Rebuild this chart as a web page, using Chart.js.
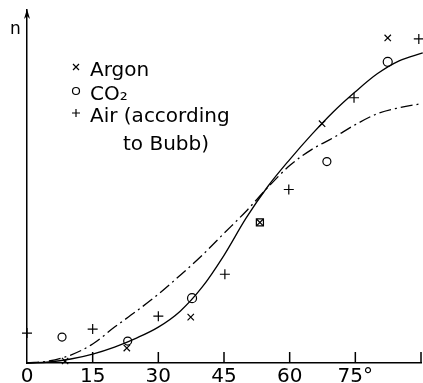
<!DOCTYPE html>
<html>
<head>
<meta charset="utf-8">
<script src="https://cdn.jsdelivr.net/npm/chart.js@4/dist/chart.umd.min.js"></script>
<style>
    html, body { margin: 0; padding: 0; background: #fff; overflow: hidden; }
    #wrap { width: 423px; height: 383px; overflow: hidden; }
</style>
</head>
<body>
<div id="wrap"><canvas id="nChart" width="423" height="400"></canvas></div>
<script>
// x: angle in degrees, y: n (height, arbitrary units)
const xTicks = [0, 15, 30, 45, 60, 75, 90];
const xTickLabels = ['0', '15', '30', '45', '60', '75°', ''];

const argonX = [8.7, 22.8, 37.4, 53.2, 67.4, 82.4];
const argonY = [2, 15, 46, 141, 240, 326];

const co2X = [8.0, 23.0, 37.7, 53.2, 68.5, 82.4];
const co2Y = [26, 22, 65, 141, 202, 302];
const co2Style = ['circle', 'circle', 'circle', 'rect', 'circle', 'circle'];

const airX = [0, 15, 30, 45.2, 59.8, 74.7, 89.5];
const airY = [30, 34, 47, 89, 174, 266, 325];

// solid curve (argon / CO2)
const solidX = [0, 5, 10, 15, 20, 25, 30, 35, 40, 45, 50, 55, 60, 65, 70, 75, 80, 85, 90.4];
const solidY = [0, 1, 4, 9, 16, 25, 36, 52, 76, 108, 145, 177, 204, 229, 252, 272, 290, 303, 311];

// dash-dot curve (air)
const dashX = [0, 5, 10, 15, 20, 25, 30, 35, 40, 45, 50, 55, 60, 65, 70, 75, 80, 85, 90];
const dashY = [0, 2, 8, 19, 36, 52, 69, 88, 108, 130, 152, 176, 198, 214, 226, 239, 250, 256, 260];

const legendNames = [['Argon'], ['CO₂'], ['Air (according', 'to Bubb)']];

const toPoints = (xs, ys) => xs.map((x, i) => ({ x: x, y: ys[i] }));

const axisDecor = {
    id: 'axisDecor',
    afterDraw(chart) {
        const ctx = chart.ctx;
        const area = chart.chartArea;
        const xs = chart.scales.x;
        ctx.save();
        ctx.strokeStyle = '#000';
        ctx.fillStyle = '#000';
        ctx.lineWidth = 1.5;

        // upward tick marks
        xTicks.forEach(v => {
            if (v === 0) return;
            const px = xs.getPixelForValue(v);
            ctx.beginPath();
            ctx.moveTo(px, area.bottom);
            ctx.lineTo(px, area.bottom - 11);
            ctx.stroke();
        });

        // arrow head on y axis
        const ax = area.left;
        ctx.beginPath();
        ctx.moveTo(ax, area.top - 1);
        ctx.lineTo(ax - 3, area.top + 9);
        ctx.lineTo(ax, area.top + 6);
        ctx.lineTo(ax + 3, area.top + 9);
        ctx.closePath();
        ctx.fill();

        // axis name
        ctx.font = '17px "DejaVu Sans"';
        ctx.textBaseline = 'alphabetic';
        ctx.fillText('n', ax - 17, area.top + 24);

        // legend
        ctx.lineWidth = 1.2;
        ctx.font = '20px "DejaVu Sans"';
        const rows = [76, 100, 122];
        const sx = 76;
        rows.forEach((base, i) => {
            const cy = base - 9;
            ctx.beginPath();
            if (i === 0) {
                ctx.moveTo(sx - 3, cy - 3); ctx.lineTo(sx + 3, cy + 3);
                ctx.moveTo(sx + 3, cy - 3); ctx.lineTo(sx - 3, cy + 3);
            } else if (i === 1) {
                ctx.arc(sx, cy, 3.5, 0, Math.PI * 2);
            } else {
                ctx.moveTo(sx - 4, cy); ctx.lineTo(sx + 4, cy);
                ctx.moveTo(sx, cy - 4); ctx.lineTo(sx, cy + 4);
            }
            ctx.stroke();
            legendNames[i].forEach((line, j) => {
                ctx.fillText(line, j === 0 ? 90 : 123, base + j * 28);
            });
        });
        ctx.restore();
    }
};

const pointSet = (label, data, style, radius) => ({
    type: 'scatter',
    label: label,
    data: data,
    showLine: false,
    pointStyle: style,
    pointRadius: radius,
    pointBorderColor: '#000',
    pointBackgroundColor: 'rgba(0,0,0,0)',
    pointBorderWidth: 1.2,
    clip: false
});

new Chart(document.getElementById('nChart'), {
    type: 'line',
    data: {
        datasets: [
            {
                label: 'solid',
                data: toPoints(solidX, solidY),
                borderColor: '#000',
                borderWidth: 1.3,
                pointRadius: 0,
                cubicInterpolationMode: 'monotone',
                fill: false,
                clip: false
            },
            {
                label: 'dash-dot',
                data: toPoints(dashX, dashY),
                borderColor: '#000',
                borderWidth: 1.3,
                borderDash: [12, 4, 2, 4],
                pointRadius: 0,
                cubicInterpolationMode: 'monotone',
                fill: false,
                clip: false
            },
            pointSet('Argon', toPoints(argonX, argonY), 'crossRot', 4.5),
            pointSet('CO₂', toPoints(co2X, co2Y), co2Style, [4, 4, 4.5, 5, 4, 4.5]),
            pointSet('Air', toPoints(airX, airY), 'cross', 5)
        ]
    },
    options: {
        responsive: false,
        animation: false,
        layout: { autoPadding: false, padding: { left: 27, right: 2, top: 10, bottom: 9 } },
        plugins: {
            legend: { display: false },
            tooltip: { enabled: false }
        },
        scales: {
            x: {
                type: 'linear',
                min: 0,
                max: 90,
                afterBuildTicks: (scale) => {
                    scale.ticks = xTicks.map(v => ({ value: v }));
                },
                ticks: {
                    color: '#000',
                    padding: 2,
                    autoSkip: false,
                    maxRotation: 0,
                    font: { family: 'DejaVu Sans', size: 20 },
                    callback: (value) => xTickLabels[xTicks.indexOf(value)]
                },
                grid: { display: false, drawTicks: false },
                border: { display: true, color: '#000', width: 1.5 }
            },
            y: {
                min: 0,
                max: 354,
                ticks: { display: false },
                grid: { display: false, drawTicks: false },
                border: { display: true, color: '#000', width: 1.5 }
            }
        }
    },
    plugins: [axisDecor]
});
</script>
</body>
</html>
